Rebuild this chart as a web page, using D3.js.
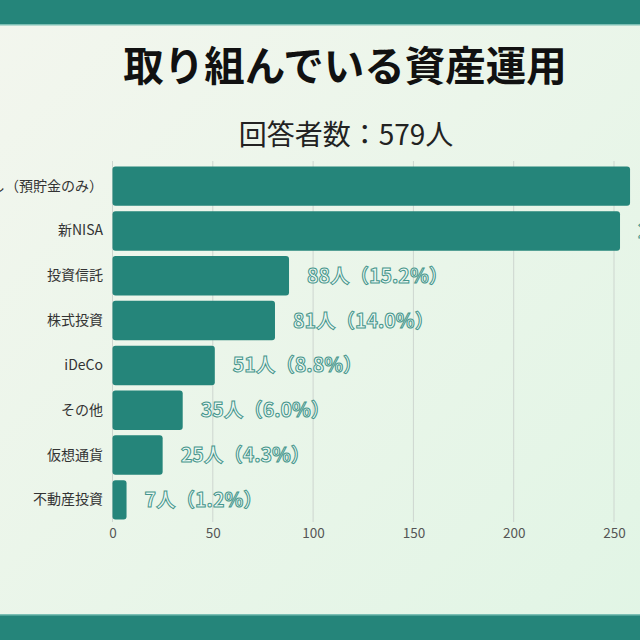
<!DOCTYPE html>
<html>
<head>
<meta charset="utf-8">
<script src="https://cdn.jsdelivr.net/npm/d3@7"></script>
<style>
html, body { margin: 0; padding: 0; }
svg { display: block; font-family: "Noto Sans CJK JP", "Noto Sans", sans-serif; }
</style>
</head>
<body>
<svg id="chart" width="640" height="640"></svg>
<script>
var svg = d3.select("#chart");
var w = 640, h = 640;

// data
var categories = ["なし（預貯金のみ）", "新NISA", "投資信託", "株式投資", "iDeCo", "その他", "仮想通貨", "不動産投資"];
var counts = [258, 253, 88, 81, 51, 35, 25, 7];
var percents = ["44.6%", "43.7%", "15.2%", "14.0%", "8.8%", "6.0%", "4.3%", "1.2%"];
var ticks = [0, 50, 100, 150, 200, 250];
var total = 579;

var teal = "#25857a";

// background
var defs = svg.append("defs");
var grad = defs.append("linearGradient").attr("id", "bg")
	.attr("x1", "0").attr("y1", "0").attr("x2", "1").attr("y2", "1");
grad.append("stop").attr("offset", "0").attr("stop-color", "#f3f6ee");
grad.append("stop").attr("offset", "1").attr("stop-color", "#e1f5e5");
svg.append("rect").attr("width", w).attr("height", h).attr("fill", "url(#bg)");

// top & bottom bands
svg.append("rect").attr("x", 0).attr("y", 0).attr("width", w).attr("height", 24).attr("fill", teal);
svg.append("rect").attr("x", 0).attr("y", 24).attr("width", w).attr("height", 1.5).attr("fill", "#7cbfb4");
svg.append("rect").attr("x", 0).attr("y", 615).attr("width", w).attr("height", 25).attr("fill", teal);
svg.append("rect").attr("x", 0).attr("y", 614).attr("width", w).attr("height", 1.5).attr("fill", "#7cbfb4");

// titles
svg.append("text").attr("x", 345).attr("y", 81)
	.attr("text-anchor", "middle").attr("font-size", 40.5).attr("font-weight", 700)
	.attr("fill", "#111").text("取り組んでいる資産運用");
svg.append("text").attr("x", 346).attr("y", 145)
	.attr("text-anchor", "middle").attr("font-size", 28)
	.attr("fill", "#222").text("回答者数：" + total + "人");

var x = d3.scaleLinear().domain([0, 250]).range([112.5, 614]);
var y = d3.scaleBand().domain(categories).range([161, 525]).padding(0.12);

// gridlines
svg.append("g").selectAll("line")
	.data(ticks).enter().append("line")
	.attr("x1", function(d){ return x(d); })
	.attr("x2", function(d){ return x(d); })
	.attr("y1", 161).attr("y2", 522)
	.attr("stroke", "#cdd6cf").attr("stroke-width", 1);

// x axis tick labels
var xAxis = svg.append("g").attr("transform", "translate(0,528)")
	.call(d3.axisBottom(x).tickValues(ticks).tickSize(0).tickPadding(0));
xAxis.select(".domain").remove();
xAxis.selectAll("text").attr("font-size", 13.5).attr("fill", "#555")
	.attr("font-family", "'Noto Sans CJK JP', sans-serif");

// category labels
var yAxis = svg.append("g").attr("transform", "translate(103,0)")
	.call(d3.axisLeft(y).tickSize(0).tickPadding(0));
yAxis.select(".domain").remove();
yAxis.selectAll("text").attr("font-size", 14).attr("fill", "#333")
	.attr("font-family", "'Noto Sans CJK JP', sans-serif");

var rows = categories.map(function(c, i){
	return {name: c, value: counts[i], pct: percents[i]};
});

// bars
svg.append("g").selectAll("rect")
	.data(rows).enter().append("rect")
	.attr("x", x(0))
	.attr("y", function(d){ return y(d.name); })
	.attr("width", function(d){ return x(d.value) - x(0); })
	.attr("height", y.bandwidth())
	.attr("rx", 3)
	.attr("fill", teal);

// value labels (outlined)
svg.append("g").selectAll("text")
	.data(rows).enter().append("text")
	.attr("x", function(d){ return x(d.value) + 18; })
	.attr("y", function(d){ return y(d.name) + y.bandwidth() / 2; })
	.attr("dy", "0.36em")
	.attr("font-size", 19.5).attr("font-weight", 700)
	.attr("fill", "#ecf8f2").attr("stroke", "#45958b").attr("stroke-width", 1)
	.text(function(d){ return d.value + "人（" + d.pct + "）"; });
</script>
</body>
</html>
